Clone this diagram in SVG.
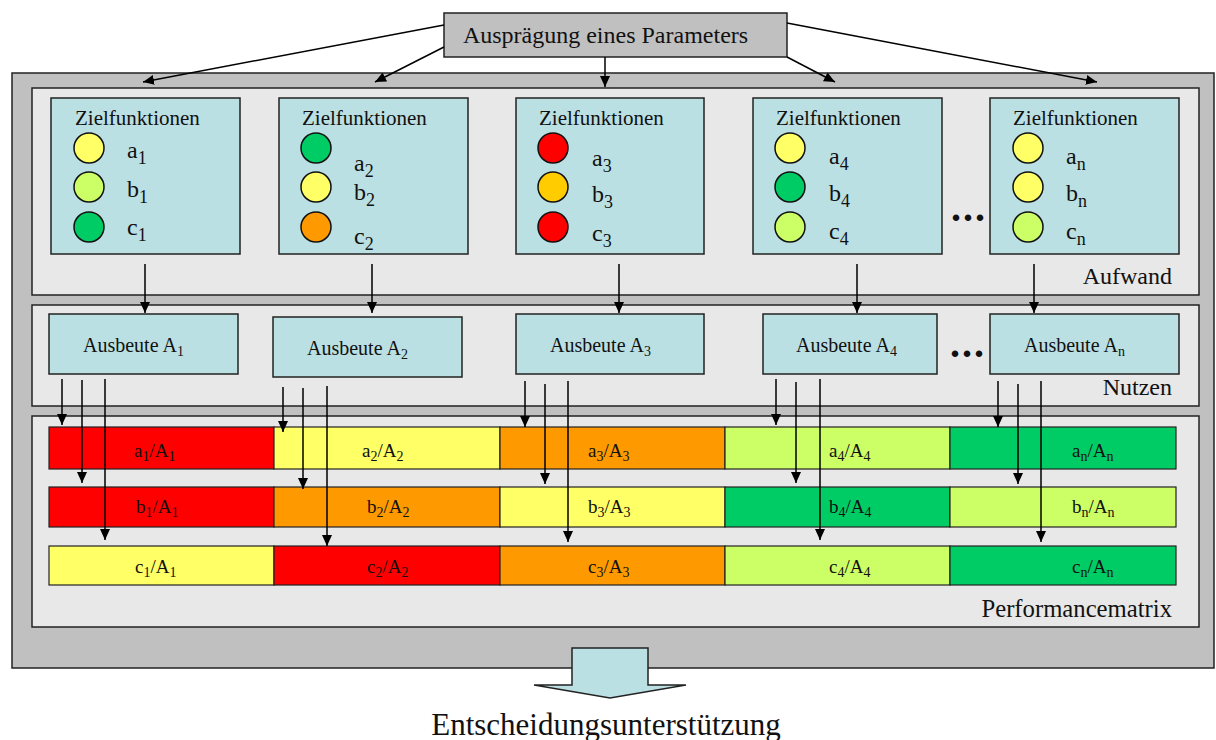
<svg xmlns="http://www.w3.org/2000/svg" width="1216" height="740" viewBox="0 0 1216 740">
  <style>
    text { font-family: "Liberation Serif", "Times New Roman", serif; fill: #111; }
    .frame { fill: #c0c0c0; stroke: #222; stroke-width: 1.5; }
    .panel { fill: #e8e8e8; stroke: #222; stroke-width: 1.5; }
    .box { fill: #bbe0e3; stroke: #222; stroke-width: 1.5; }
    .dot { stroke: #111; stroke-width: 1.5; }
    .cell { stroke: #222; stroke-width: 1.2; }
    .lbl { font-size: 24px; }
    .zf { font-size: 21px; }
    .sub { font-size: 18px; }
    .aus { font-size: 20px; }
    .subs { font-size: 14px; }
    .mat { font-size: 19px; }
    .conn line { stroke: #000; stroke-width: 1.5; marker-end: url(#ah); }
    .y { fill: #ffff66; } .lg { fill: #ccff66; } .g { fill: #00cc66; }
    .r { fill: #ff0000; } .o { fill: #ff9900; } .au { fill: #ffcc00; }
  </style>
  <defs>
    <marker id="ah" markerUnits="userSpaceOnUse" markerWidth="11" markerHeight="10" refX="11" refY="5" orient="auto">
      <path d="M0,0 L11,5 L0,10 z" fill="#000"/>
    </marker>
  </defs>

  <!-- outer frame and the three layers -->
  <rect class="frame" x="12" y="73" width="1202" height="595"/>
  <g id="aufwand">
    <rect class="panel" x="32" y="88" width="1167" height="207"/>
    <text class="lbl" x="1172" y="284" text-anchor="end">Aufwand</text>
  </g>
  <g id="nutzen">
    <rect class="panel" x="32" y="305" width="1167" height="101"/>
    <text class="lbl" x="1172" y="395" text-anchor="end">Nutzen</text>
  </g>
  <g id="performancematrix">
    <rect class="panel" x="32" y="416" width="1167" height="211"/>
    <text x="1172" y="617" font-size="24.7" text-anchor="end">Performancematrix</text>
  </g>

  <!-- parameter box -->
  <g id="parameter">
    <rect class="frame" x="444" y="13" width="343" height="44"/>
    <text x="605.5" y="43" font-size="24" text-anchor="middle">Ausprägung eines Parameters</text>
  </g>

  <!-- objective function boxes -->
  <g id="ziel1">
    <rect class="box" x="51" y="98" width="189" height="156"/>
    <text class="zf" x="75" y="125">Zielfunktionen</text>
    <circle class="dot y" cx="89" cy="148" r="15"/>
    <circle class="dot lg" cx="89" cy="187" r="15"/>
    <circle class="dot g" cx="89" cy="227" r="15"/>
    <text class="lbl" x="127" y="158">a<tspan class="sub" dy="6">1</tspan></text>
    <text class="lbl" x="127" y="197">b<tspan class="sub" dy="6">1</tspan></text>
    <text class="lbl" x="127" y="235">c<tspan class="sub" dy="6">1</tspan></text>
  </g>
  <g id="ziel2">
    <rect class="box" x="279" y="98" width="189" height="156"/>
    <text class="zf" x="302" y="125">Zielfunktionen</text>
    <circle class="dot g" cx="316" cy="148" r="15"/>
    <circle class="dot y" cx="316" cy="187" r="15"/>
    <circle class="dot o" cx="316" cy="227" r="15"/>
    <text class="lbl" x="354" y="171">a<tspan class="sub" dy="6">2</tspan></text>
    <text class="lbl" x="354" y="200">b<tspan class="sub" dy="6">2</tspan></text>
    <text class="lbl" x="354" y="244">c<tspan class="sub" dy="6">2</tspan></text>
  </g>
  <g id="ziel3">
    <rect class="box" x="516" y="98" width="188" height="156"/>
    <text class="zf" x="539" y="125">Zielfunktionen</text>
    <circle class="dot r" cx="553" cy="148" r="15"/>
    <circle class="dot au" cx="553" cy="187" r="15"/>
    <circle class="dot r" cx="553" cy="227" r="15"/>
    <text class="lbl" x="592" y="166">a<tspan class="sub" dy="6">3</tspan></text>
    <text class="lbl" x="592" y="202">b<tspan class="sub" dy="6">3</tspan></text>
    <text class="lbl" x="592" y="241">c<tspan class="sub" dy="6">3</tspan></text>
  </g>
  <g id="ziel4">
    <rect class="box" x="753" y="98" width="189" height="156"/>
    <text class="zf" x="776" y="125">Zielfunktionen</text>
    <circle class="dot y" cx="790" cy="148" r="15"/>
    <circle class="dot g" cx="790" cy="187" r="15"/>
    <circle class="dot lg" cx="790" cy="227" r="15"/>
    <text class="lbl" x="829" y="164">a<tspan class="sub" dy="6">4</tspan></text>
    <text class="lbl" x="829" y="201">b<tspan class="sub" dy="6">4</tspan></text>
    <text class="lbl" x="829" y="239">c<tspan class="sub" dy="6">4</tspan></text>
  </g>
  <g id="ziel-n">
    <rect class="box" x="990" y="98" width="189" height="156"/>
    <text class="zf" x="1013" y="125">Zielfunktionen</text>
    <circle class="dot y" cx="1028" cy="148" r="15"/>
    <circle class="dot y" cx="1028" cy="187" r="15"/>
    <circle class="dot lg" cx="1028" cy="227" r="15"/>
    <text class="lbl" x="1066" y="164">a<tspan class="sub" dy="6">n</tspan></text>
    <text class="lbl" x="1066" y="201">b<tspan class="sub" dy="6">n</tspan></text>
    <text class="lbl" x="1066" y="239">c<tspan class="sub" dy="6">n</tspan></text>
  </g>
  <text x="951" y="221" font-size="40" font-weight="bold" letter-spacing="2">...</text>

  <!-- yield boxes -->
  <g id="ausbeute1">
    <rect class="box" x="49" y="314" width="189" height="60"/>
    <text class="aus" x="83" y="352">Ausbeute A<tspan class="subs" dy="4">1</tspan></text>
  </g>
  <g id="ausbeute2">
    <rect class="box" x="273" y="317" width="189" height="60"/>
    <text class="aus" x="307" y="355">Ausbeute A<tspan class="subs" dy="4">2</tspan></text>
  </g>
  <g id="ausbeute3">
    <rect class="box" x="516" y="314" width="188" height="60"/>
    <text class="aus" x="550" y="352">Ausbeute A<tspan class="subs" dy="4">3</tspan></text>
  </g>
  <g id="ausbeute4">
    <rect class="box" x="763" y="314" width="174" height="60"/>
    <text class="aus" x="796" y="352">Ausbeute A<tspan class="subs" dy="4">4</tspan></text>
  </g>
  <g id="ausbeute-n">
    <rect class="box" x="990" y="314" width="189" height="60"/>
    <text class="aus" x="1024" y="352">Ausbeute A<tspan class="subs" dy="4">n</tspan></text>
  </g>
  <text x="950" y="357" font-size="40" font-weight="bold" letter-spacing="2">...</text>

  <!-- performance matrix cells -->
  <g id="row-a">
    <rect class="cell r" x="49" y="427" width="225" height="42"/>
    <rect class="cell y" x="274" y="427" width="226" height="42"/>
    <rect class="cell o" x="500" y="427" width="225" height="42"/>
    <rect class="cell lg" x="725" y="427" width="225" height="42"/>
    <rect class="cell g" x="950" y="427" width="226" height="42"/>
    <text class="mat" x="134" y="457">a<tspan class="subs" dy="4">1</tspan><tspan dy="-4">/A</tspan><tspan class="subs" dy="4">1</tspan></text>
    <text class="mat" x="362" y="457">a<tspan class="subs" dy="4">2</tspan><tspan dy="-4">/A</tspan><tspan class="subs" dy="4">2</tspan></text>
    <text class="mat" x="588" y="457">a<tspan class="subs" dy="4">3</tspan><tspan dy="-4">/A</tspan><tspan class="subs" dy="4">3</tspan></text>
    <text class="mat" x="829" y="457">a<tspan class="subs" dy="4">4</tspan><tspan dy="-4">/A</tspan><tspan class="subs" dy="4">4</tspan></text>
    <text class="mat" x="1072" y="457">a<tspan class="subs" dy="4">n</tspan><tspan dy="-4">/A</tspan><tspan class="subs" dy="4">n</tspan></text>
  </g>
  <g id="row-b">
    <rect class="cell r" x="49" y="487" width="225" height="40"/>
    <rect class="cell o" x="274" y="487" width="226" height="40"/>
    <rect class="cell y" x="500" y="487" width="225" height="40"/>
    <rect class="cell g" x="725" y="487" width="225" height="40"/>
    <rect class="cell lg" x="950" y="487" width="226" height="40"/>
    <text class="mat" x="136" y="513">b<tspan class="subs" dy="4">1</tspan><tspan dy="-4">/A</tspan><tspan class="subs" dy="4">1</tspan></text>
    <text class="mat" x="367" y="513">b<tspan class="subs" dy="4">2</tspan><tspan dy="-4">/A</tspan><tspan class="subs" dy="4">2</tspan></text>
    <text class="mat" x="588" y="513">b<tspan class="subs" dy="4">3</tspan><tspan dy="-4">/A</tspan><tspan class="subs" dy="4">3</tspan></text>
    <text class="mat" x="829" y="513">b<tspan class="subs" dy="4">4</tspan><tspan dy="-4">/A</tspan><tspan class="subs" dy="4">4</tspan></text>
    <text class="mat" x="1072" y="513">b<tspan class="subs" dy="4">n</tspan><tspan dy="-4">/A</tspan><tspan class="subs" dy="4">n</tspan></text>
  </g>
  <g id="row-c">
    <rect class="cell y" x="49" y="546" width="225" height="39"/>
    <rect class="cell r" x="274" y="546" width="226" height="39"/>
    <rect class="cell o" x="500" y="546" width="225" height="39"/>
    <rect class="cell lg" x="725" y="546" width="225" height="39"/>
    <rect class="cell g" x="950" y="546" width="226" height="39"/>
    <text class="mat" x="135" y="573">c<tspan class="subs" dy="4">1</tspan><tspan dy="-4">/A</tspan><tspan class="subs" dy="4">1</tspan></text>
    <text class="mat" x="367" y="573">c<tspan class="subs" dy="4">2</tspan><tspan dy="-4">/A</tspan><tspan class="subs" dy="4">2</tspan></text>
    <text class="mat" x="588" y="573">c<tspan class="subs" dy="4">3</tspan><tspan dy="-4">/A</tspan><tspan class="subs" dy="4">3</tspan></text>
    <text class="mat" x="829" y="573">c<tspan class="subs" dy="4">4</tspan><tspan dy="-4">/A</tspan><tspan class="subs" dy="4">4</tspan></text>
    <text class="mat" x="1072" y="573">c<tspan class="subs" dy="4">n</tspan><tspan dy="-4">/A</tspan><tspan class="subs" dy="4">n</tspan></text>
  </g>

  <!-- connectors -->
  <g id="connectors" class="conn">
    <line x1="444" y1="25" x2="143" y2="82"/>
    <line x1="444" y1="47" x2="375" y2="82"/>
    <line x1="605" y1="57" x2="605" y2="87"/>
    <line x1="787" y1="57" x2="835" y2="82"/>
    <line x1="787" y1="23" x2="1097" y2="82"/>

    <line x1="145" y1="264" x2="145" y2="313"/>
    <line x1="372" y1="264" x2="372" y2="313"/>
    <line x1="619" y1="264" x2="619" y2="313"/>
    <line x1="857" y1="264" x2="857" y2="313"/>
    <line x1="1034" y1="264" x2="1034" y2="313"/>

    <line x1="62" y1="379" x2="62" y2="425"/>
    <line x1="82" y1="380" x2="82" y2="483"/>
    <line x1="105" y1="379" x2="105" y2="540"/>
    <line x1="283" y1="387" x2="283" y2="432"/>
    <line x1="303" y1="388" x2="303" y2="489"/>
    <line x1="327" y1="386" x2="327" y2="546"/>
    <line x1="525" y1="381" x2="525" y2="427"/>
    <line x1="545" y1="384" x2="545" y2="484"/>
    <line x1="568" y1="381" x2="568" y2="542"/>
    <line x1="776" y1="379" x2="776" y2="425"/>
    <line x1="796" y1="382" x2="796" y2="483"/>
    <line x1="820" y1="379" x2="820" y2="540"/>
    <line x1="998" y1="381" x2="998" y2="427"/>
    <line x1="1018" y1="384" x2="1018" y2="484"/>
    <line x1="1041" y1="381" x2="1041" y2="542"/>
  </g>

  <!-- decision support output -->
  <g id="entscheidung">
    <polygon points="572,648 648,648 648,685 686,685 610,698 534,685 572,685" fill="#bbe0e3" stroke="#222" stroke-width="1.5"/>
    <text x="606" y="735" font-size="31" text-anchor="middle">Entscheidungsunterstützung</text>
  </g>
</svg>
